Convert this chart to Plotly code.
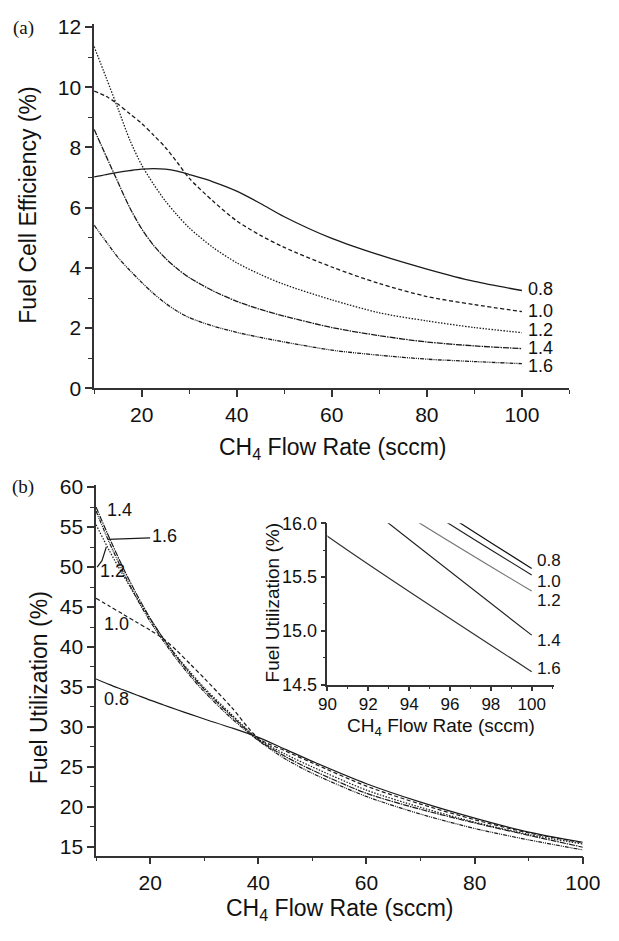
import plotly.graph_objects as go

W, H = 619, 941

# ---------------- data ----------------
flow = [10, 12.5, 15, 17.5, 20, 22.5, 25, 27.5, 30, 35, 40, 45, 50, 60, 70, 80, 90, 100]
ratios = ["0.8", "1.0", "1.2", "1.4", "1.6"]

eff_08 = [7.02, 7.10, 7.17, 7.23, 7.28, 7.30, 7.28, 7.21, 7.10, 6.86, 6.55, 6.14, 5.70, 4.98, 4.43, 3.96, 3.55, 3.25]
eff_10 = [9.87, 9.70, 9.44, 9.12, 8.80, 8.41, 8.00, 7.50, 6.98, 6.22, 5.56, 5.08, 4.68, 4.03, 3.48, 3.05, 2.78, 2.55]
eff_12 = [11.35, 10.33, 9.30, 8.25, 7.42, 6.78, 6.22, 5.75, 5.33, 4.68, 4.17, 3.78, 3.45, 2.94, 2.51, 2.24, 2.02, 1.85]
eff_14 = [8.60, 7.72, 6.85, 6.00, 5.30, 4.75, 4.32, 3.97, 3.68, 3.24, 2.89, 2.62, 2.40, 2.02, 1.75, 1.54, 1.41, 1.32]
eff_16 = [5.42, 4.88, 4.35, 3.92, 3.52, 3.15, 2.83, 2.56, 2.35, 2.07, 1.86, 1.69, 1.54, 1.27, 1.10, 0.97, 0.89, 0.82]

util_08 = [36.0, 35.3, 34.65, 34.0, 33.35, 32.75, 32.15, 31.57, 31.0, 29.9, 28.7, 27.2, 25.7, 22.9, 20.6, 18.6, 16.85, 15.58]
util_10 = [46.1, 45.1, 44.1, 43.1, 42.1, 41.0, 39.5, 37.8, 36.1, 32.5, 28.6, 27.0, 25.5, 22.6, 20.35, 18.4, 16.75, 15.52]
util_12 = [55.3, 52.0, 49.0, 46.2, 43.5, 41.0, 38.8, 36.8, 34.9, 31.6, 28.5, 26.6, 25.0, 22.1, 19.95, 18.1, 16.56, 15.37]
util_14 = [57.5, 53.6, 49.9, 46.6, 43.6, 41.0, 38.7, 36.6, 34.7, 31.4, 28.4, 26.3, 24.6, 21.7, 19.7, 18.0, 16.45, 14.96]
util_16 = [57.0, 53.0, 49.4, 46.1, 43.2, 40.7, 38.4, 36.3, 34.4, 31.1, 28.3, 26.0, 24.2, 21.3, 19.1, 17.3, 15.88, 14.62]

eff = [eff_08, eff_10, eff_12, eff_14, eff_16]
util = [util_08, util_10, util_12, util_14, util_16]

# label positions (data coords)
eff_label_y = [3.29, 2.57, 1.94, 1.33, 0.74]
inset_label_y = [15.65, 15.46, 15.28, 14.91, 14.65]
bottom_label_x = [11.1, 11.1, 10.3, 11.6, 19.9]
bottom_label_y = [33.5, 42.9, 49.5, 57.1, 53.9]

# ---------------- style ----------------
FONT = "Liberation Sans, Arial, sans-serif"
INK = "#1a1a1a"
AX = "#333333"
dashes = ["solid", "4px,2.5px", "1.5px,1.5px", "6px,1px,1.5px,1px", "4px,1px,1px,1px,1px,1px"]
inset_colors = ["#111111", "#222222", "#777777", "#222222", "#333333"]


def px(x):
    return x / W


def py(y):
    return 1 - y / H


fig = go.Figure()

for i, r in enumerate(ratios):
    fig.add_trace(go.Scatter(x=flow, y=eff[i], mode="lines", xaxis="x", yaxis="y",
                             line=dict(color=INK, width=1.3, dash=dashes[i], shape="spline", smoothing=0.8),
                             showlegend=False, hoverinfo="skip"))
for i, r in enumerate(ratios):
    fig.add_trace(go.Scatter(x=flow, y=util[i], mode="lines", xaxis="x2", yaxis="y2",
                             line=dict(color=INK, width=1.2, dash=dashes[i], shape="spline", smoothing=0.8),
                             showlegend=False, hoverinfo="skip"))
for i, r in enumerate(ratios):
    fig.add_trace(go.Scatter(x=flow, y=util[i], mode="lines", xaxis="x3", yaxis="y3",
                             line=dict(color=inset_colors[i], width=1.2, shape="spline", smoothing=0.8),
                             showlegend=False, hoverinfo="skip"))


def axis(domain, rng, dtick, mdtick, size, anchor, fmt=None, tl=7, standoff=0):
    d = dict(domain=domain, range=rng, anchor=anchor, showline=True, linecolor=AX, linewidth=1.5,
             ticks="outside", ticklen=tl, tickwidth=1.5, tickcolor=AX, tick0=0, dtick=dtick,
             minor=dict(ticks="outside", ticklen=max(3, tl - 3), tickwidth=1.2, tickcolor=AX, tick0=0,
                        dtick=mdtick, showgrid=False),
             tickfont=dict(family=FONT, size=size, color="#111"), showgrid=False, zeroline=False, mirror=False,
             ticklabelstandoff=standoff)
    if fmt:
        d["tickformat"] = fmt
    return d


fig.update_layout(
    width=W, height=H, margin=dict(l=0, r=0, t=0, b=0),
    paper_bgcolor="white", plot_bgcolor="rgba(0,0,0,0)", showlegend=False,
    xaxis=axis([px(89), px(586)], [10, 110], 20, 10, 21, "y"),
    yaxis=axis([py(387), py(14.3)], [0, 12.1], 2, 1, 21, "x"),
    xaxis2=axis([px(91), px(600)], [10, 100], 20, 10, 21, "y2"),
    yaxis2=axis([py(865), py(485.5)], [13.9, 60.3], 5, 2.5, 21, "x2"),
    xaxis3=axis([px(333), px(570)], [90, 101.1], 2, 1, 17, "y3", tl=5, standoff=-2),
    yaxis3=axis([py(690), py(525)], [14.4999, 16.0001], 0.5, 0.25, 18, "x3", ".1f", tl=5),
)

ann = []


def note(text, x, y, font, angle=0, xref="paper", yref="paper", xanchor="center"):
    ann.append(dict(text=text, x=x, y=y, xref=xref, yref=yref, xanchor=xanchor, yanchor="middle",
                    textangle=angle, showarrow=False, font=font))


TF = dict(family=FONT, size=23, color="#111")
note("Fuel Cell Efficiency (%)", px(19), py(200), TF, -90)
note("CH<sub>4</sub> Flow Rate (sccm)", px(338), py(449), TF)
note("Fuel Utilization (%)", px(31), py(693), TF, -90)
note("CH<sub>4</sub> Flow Rate (sccm)", px(346), py(920), TF)
IF = dict(family=FONT, size=19, color="#111")
note("Fuel Utilization (%)", px(276), py(606), IF, -90)
note("CH<sub>4</sub> Flow Rate (sccm)", px(452), py(733), IF)
PF = dict(family="Liberation Serif, Times New Roman, serif", size=19, color="#111")
note("(a)", px(15), py(18), PF)
note("(b)", px(15), py(488), PF)

LF = dict(family=FONT, size=18, color="#111")
SF = dict(family=FONT, size=17, color="#111")
BF = dict(family=FONT, size=18, color="#111")
for i, r in enumerate(ratios):
    note(r, 100.9, eff_label_y[i], LF, xref="x", yref="y", xanchor="left")
    note(r, 100.15, inset_label_y[i], SF, xref="x3", yref="y3", xanchor="left")
    note(r, bottom_label_x[i], bottom_label_y[i], BF, xref="x2", yref="y2", xanchor="left")

fig.update_layout(annotations=ann)

fig.add_shape(type="line", xref="x2", yref="y2", x0=12.2, y0=53.45, x1=20.0, y1=53.65,
              line=dict(color=INK, width=1.2))
fig.add_shape(type="path", xref="x2", yref="y2", path="M 10.2,50.0 L 11.1,50.8 L 11.9,52.5",
              line=dict(color=INK, width=1.2))

fig.write_html("out.html", config={"displayModeBar": False},
               post_script="document.body.style.margin='0';document.body.style.overflow='hidden';")
